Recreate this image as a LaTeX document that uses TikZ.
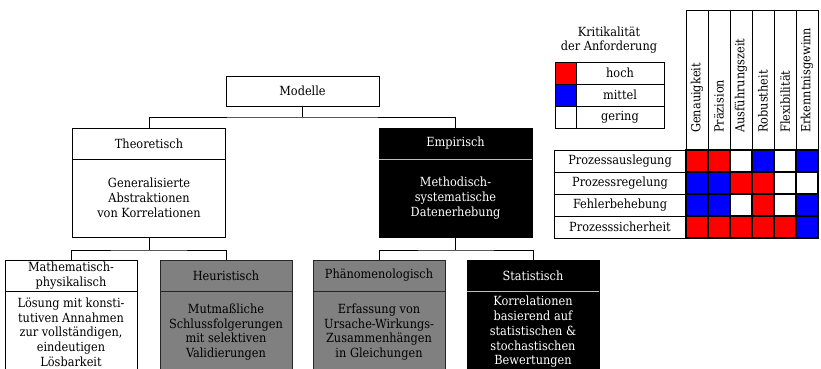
\documentclass[tikz,border=0pt]{standalone}
\usepackage{fontspec}
\setmainfont{DejaVu Serif Condensed}
\newcommand{\diafont}{\fontsize{12.6}{14.7}\selectfont}
\definecolor{hi}{RGB}{255,0,0}
\definecolor{mid}{RGB}{0,0,255}
\definecolor{lo}{RGB}{255,255,255}
\definecolor{midgray}{RGB}{128,128,128}
\tikzset{
  base/.style={draw=black, line width=0.9pt, inner sep=0pt, outer sep=0pt,
    align=center, font=\diafont},
  whitebox/.style={base, fill=white},
  graybox/.style={base, fill=midgray, draw=black!85},
  blackbox/.style={base, fill=black, text=white},
  midw/.style={minimum width=153pt},
  lowW/.style={minimum width=132pt},
  headH/.style={minimum height=31pt},
  midbodyH/.style={minimum height=78pt},
  lowbodyH/.style={minimum height=82pt},
  link/.style={draw=black, line width=0.8pt},
  divider/.style={draw=black!25, line width=0.8pt},
  cell/.style={draw=black, line width=1.2pt, minimum width=22pt, minimum height=22pt, inner sep=0pt},
  labcell/.style={base, line width=0.8pt, minimum height=22pt},
  colhead/.style={draw=black, line width=0.8pt, minimum width=22pt, inner sep=0pt},
  headtext/.style={font=\diafont, rotate=90, anchor=west, inner sep=0pt}
}
\begin{document}
\begin{tikzpicture}[x=1pt,y=-1pt]
\useasboundingbox (0,0) rectangle (821,369);
\clip (0,0) rectangle (821,369);
\fill[white] (0,0) rectangle (821,369);

% --- tree of model classes ---
\node[whitebox, midw, minimum height=30pt] (mod) at (302.5,91) {Modelle};

\node[whitebox, midw, headH] (theoT) at (149,143.5) {Theoretisch};
\node[whitebox, midw, midbodyH] (theoB) at (149,198) {Generalisierte\\Abstraktionen\\von Korrelationen};

\node[blackbox, midw, headH] (empT) at (455.5,143.5) {Empirisch};
\node[blackbox, midw, midbodyH] (empB) at (455.5,198) {Methodisch-\\systematische\\Datenerhebung};
\draw[divider] (empT.south west) -- (empT.south east);

\node[whitebox, lowW, headH] (matT) at (71,275.5) {Mathematisch-\\physikalisch};
\node[whitebox, lowW, lowbodyH] (matB) at (71,332) {Lösung mit konsti-\\tutiven Annahmen\\zur vollständigen,\\eindeutigen\\Lösbarkeit};

\node[graybox, lowW, headH] (heuT) at (226,275.5) {Heuristisch};
\node[graybox, lowW, lowbodyH] (heuB) at (226,332) {Mutmaßliche\\Schlussfolgerungen\\mit selektiven\\Validierungen};

\node[graybox, lowW, headH] (phaT) at (379,275.5) {Phänomenologisch};
\node[graybox, lowW, lowbodyH] (phaB) at (379,332) {Erfassung von\\Ursache-Wirkungs-\\Zusammenhängen\\in Gleichungen};

\node[blackbox, lowW, headH] (staT) at (533,275.5) {Statistisch};
\node[blackbox, lowW, lowbodyH] (staB) at (533,332) {Korrelationen\\basierend auf\\statistischen \&\\stochastischen\\Bewertungen};
\draw[divider] (staT.south west) -- (staT.south east);

% connectors
\coordinate (j0) at (302.5,117);
\coordinate (j1) at (149,250);
\coordinate (j2) at (455.5,250);
\draw[link] (mod.south) -- (j0);
\draw[link] (theoT.north) |- (j0) -| (empT.north);
\draw[link] (theoB.south) -- (j1);
\draw[link] (matT.north) |- (j1) -| (heuT.north);
\draw[link] (empB.south) -- (j2);
\draw[link] (phaT.north) |- (j2) -| (staT.north);

% --- legend ---
\node[font=\diafont, align=center, inner sep=0pt] (legtitle) at (609,40) {Kritikalität\\der Anforderung};
\foreach \c/\t [count=\k] in {hi/hoch, mid/mittel, lo/gering}{
  \node[cell, line width=0.8pt, minimum width=21pt, fill=\c] (leg\k) at (565.5,{51+22*\k}) {};
  \node[labcell, minimum width=88pt] (legl\k) at (620,{51+22*\k}) {\t};
}

% --- requirement columns ---
\foreach \h [count=\j] in {Genauigkeit,Präzision,Ausführungszeit,Robustheit,Flexibilität,Erkenntnisgewinn}{
  \node[colhead, minimum height=140pt] (col\j) at ({675+22*\j},80) {};
  \node[headtext] (colt\j) at ({675+22*\j},133) {\h};
}

% --- process rows and ratings ---
\foreach \l [count=\i] in {Prozessauslegung,Prozessregelung,Fehlerbehebung,Prozesssicherheit}{
  \node[labcell, minimum width=132pt] (row\i) at (620,{139+22*\i}) {\l};
}
\foreach \i/\cols in {1/{hi,hi,lo,mid,lo,mid},2/{mid,mid,hi,hi,lo,lo},3/{mid,mid,lo,hi,lo,mid},4/{hi,hi,hi,hi,hi,mid}}{
  \foreach \c [count=\j] in \cols{
    \node[cell, fill=\c] (m\i\j) at ({675+22*\j},{139+22*\i}) {};
  }
}
\end{tikzpicture}
\end{document}
